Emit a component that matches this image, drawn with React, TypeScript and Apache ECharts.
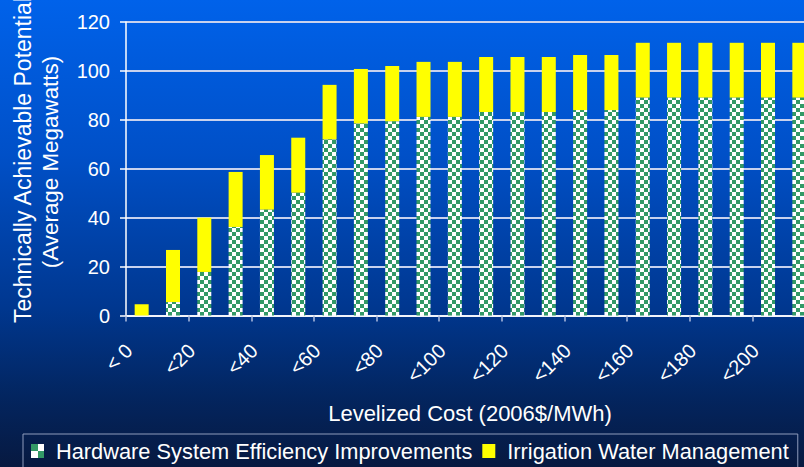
import React, { useEffect, useRef } from 'react';
import * as echarts from 'echarts';

const categories = ['< 0', '<10', '<20', '<30', '<40', '<50', '<60', '<70', '<80', '<90', '<100', '<110', '<120', '<130', '<140', '<150', '<160', '<170', '<180', '<190', '<200', '<210'];
const hardware = [0, 5.5, 17.8, 36.2, 43.3, 50.2, 72, 78.5, 79.4, 81.2, 81.2, 83.2, 83.2, 83.2, 84, 84, 89.1, 89.1, 89.1, 89.1, 89.1, 89.1];
const irrigation = [4.6, 21.3, 22.2, 22.5, 22.3, 22.5, 22.3, 22.3, 22.6, 22.5, 22.5, 22.5, 22.5, 22.5, 22.5, 22.5, 22.4, 22.4, 22.4, 22.4, 22.4, 22.4];
const seriesNames = ['Hardware System Efficiency Improvements', 'Irrigation Water Management'];
const yMin = 0;
const yMax = 120;
const yInterval = 20;
const yTitle = ['Technically Achievable Potential', '(Average Megawatts)'];
const xTitle = 'Levelized Cost (2006$/MWh)';

const FONT = '"Liberation Sans", Arial, sans-serif';

function makeChecker(cell: number): string {
  const c = document.createElement('canvas');
  c.width = cell * 2;
  c.height = cell * 2;
  const ctx = c.getContext('2d');
  if (ctx) {
    ctx.fillStyle = '#ffffff';
    ctx.fillRect(0, 0, cell * 2, cell * 2);
    ctx.fillStyle = '#339966';
    ctx.fillRect(0, 0, cell, cell);
    ctx.fillRect(cell, cell, cell, cell);
  }
  return c.toDataURL();
}

export default function App() {
  const ref = useRef<HTMLDivElement>(null);
  useEffect(() => {
    document.body.style.margin = '0';
    if (!ref.current) return;
    const chart = echarts.init(ref.current, null, { renderer: 'svg' });
    const checker = { image: makeChecker(4), repeat: 'repeat', imageWidth: 8, imageHeight: 8 };
    const iconChecker = { image: makeChecker(7), repeat: 'repeat', imageWidth: 14, imageHeight: 14, x: 31, y: 445 };
    chart.setOption({
      animation: false,
      backgroundColor: 'transparent',
      grid: { left: 126, right: -11, top: 22, bottom: 151.5, outerBoundsMode: 'none' },
      xAxis: {
        type: 'category',
        data: categories,
        boundaryGap: true,
        axisLine: { show: true, lineStyle: { color: '#ffffff', width: 1.5 } },
        axisTick: { show: true, length: 6, lineStyle: { color: '#b0bedf', width: 1.5 } },
        axisLabel: {
          interval: 1,
          rotate: 45,
          margin: 19,
          color: '#ffffff',
          fontSize: 20,
          fontFamily: FONT,
          padding: [0, 18, 0, 0],
        },
        splitLine: { show: false },
      },
      yAxis: {
        type: 'value',
        min: yMin,
        max: yMax,
        interval: yInterval,
        axisLine: { show: true, lineStyle: { color: '#ffffff', width: 1.5 } },
        axisTick: { show: true, length: 6, lineStyle: { color: '#ffffff', width: 1.5 } },
        axisLabel: { color: '#ffffff', fontSize: 20, fontFamily: FONT, margin: 16 },
        splitLine: { show: true, lineStyle: { color: '#c8d2ee', width: 1.8 } },
      },
      legend: {
        left: 23,
        top: 434,
        width: 800,
        orient: 'horizontal',
        itemWidth: 13,
        itemHeight: 14,
        itemGap: 10,
        padding: [6, 9, 14, 8],
        borderColor: '#8f9cbc',
        borderWidth: 1,
        textStyle: { color: '#ffffff', fontSize: 21.8, fontFamily: FONT, padding: [0, 0, 0, 7] },
        data: [
          { name: seriesNames[0], icon: 'rect', itemStyle: { color: iconChecker } },
          { name: seriesNames[1], icon: 'rect' },
        ],
      },
      graphic: [
        {
          type: 'text',
          x: 23,
          y: 160,
          rotation: Math.PI / 2,
          style: { text: yTitle[0], fill: '#ffffff', fontSize: 23, fontFamily: FONT, align: 'center', verticalAlign: 'middle' },
        },
        {
          type: 'text',
          x: 50,
          y: 162,
          rotation: Math.PI / 2,
          style: { text: yTitle[1], fill: '#ffffff', fontSize: 22.4, fontFamily: FONT, align: 'center', verticalAlign: 'middle' },
        },
        {
          type: 'text',
          x: 470,
          y: 413,
          style: { text: xTitle, fill: '#ffffff', fontSize: 22, fontFamily: FONT, align: 'center', verticalAlign: 'middle' },
        },
      ],
      series: [
        {
          name: seriesNames[0],
          type: 'bar',
          stack: 'total',
          barWidth: 14,
          data: hardware,
          itemStyle: { color: checker },
        },
        {
          name: seriesNames[1],
          type: 'bar',
          stack: 'total',
          barWidth: 14,
          data: irrigation,
          itemStyle: { color: '#ffff00' },
        },
      ],
    });
    return () => chart.dispose();
  }, []);
  return (
    <div
      ref={ref}
      style={{
        width: 804,
        height: 467,
        background: 'linear-gradient(to bottom, #0062ea 0%, #0050c8 33%, #00378f 66%, #03255f 85%, #071940 100%)',
      }}
    />
  );
}
